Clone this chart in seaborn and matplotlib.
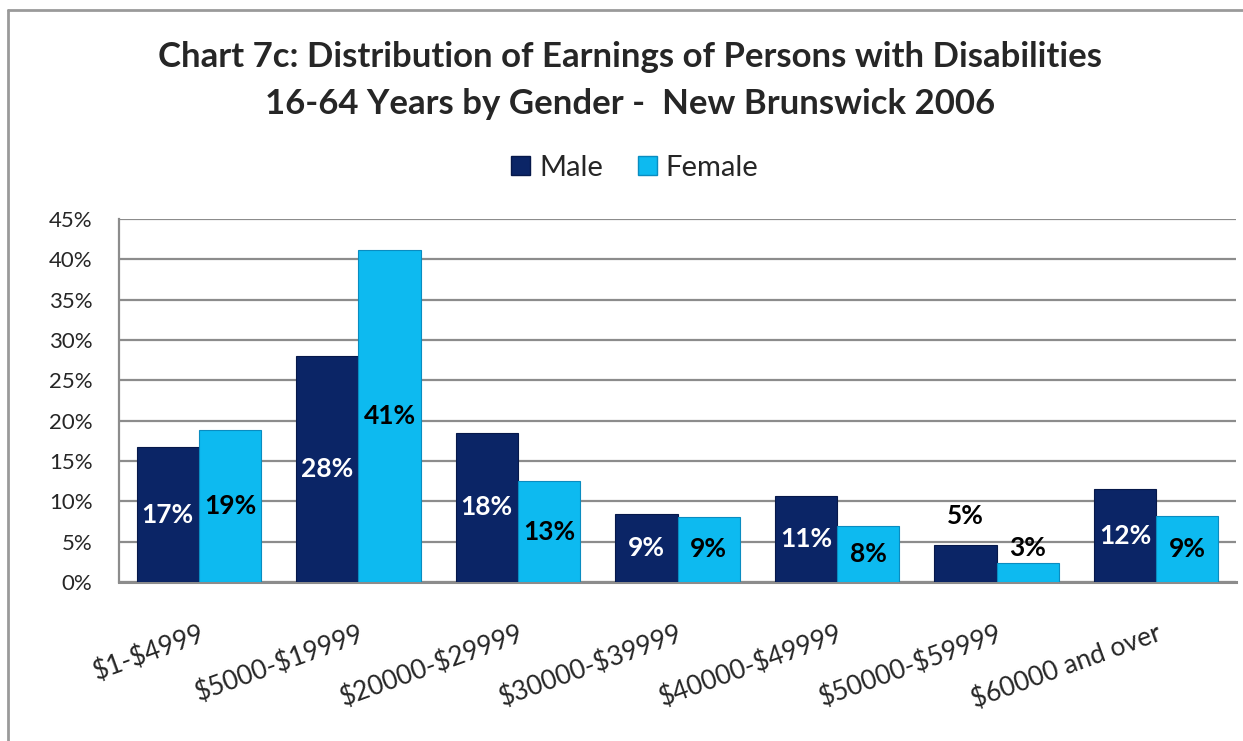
import numpy as np
import pandas as pd
import seaborn as sns
import matplotlib.pyplot as plt
from matplotlib.patches import Patch
from matplotlib.lines import Line2D

# values (bar heights, %), and the printed labels
categories = ["$1-$4999", "$5000-$19999", "$20000-$29999", "$30000-$39999",
              "$40000-$49999", "$50000-$59999", "$60000 and over"]
male_pct = [16.7, 28.0, 18.5, 8.4, 10.6, 4.6, 11.5]
female_pct = [18.9, 41.1, 12.5, 8.1, 7.0, 2.4, 8.2]
male_labels = ["17%", "28%", "18%", "9%", "11%", "5%", "12%"]
female_labels = ["19%", "41%", "13%", "9%", "8%", "3%", "9%"]
y_ticks = [0, 5, 10, 15, 20, 25, 30, 35, 40, 45]

MALE_C = "#0B2566"
FEMALE_C = "#0DBAF0"
GRID_C = "#8C8C8C"

df = pd.concat([
    pd.DataFrame({"range": categories, "pct": male_pct, "gender": "Male", "lab": male_labels}),
    pd.DataFrame({"range": categories, "pct": female_pct, "gender": "Female", "lab": female_labels}),
])

sns.set_style("white")
plt.rcParams["font.family"] = ["Lato", "DejaVu Sans"]

W, H = 1243, 741
fig = plt.figure(figsize=(W / 100, H / 100), dpi=100)
ax = fig.add_axes([119 / W, 1 - 582 / H, (1236 - 119) / W, (582 - 219) / H])

sns.barplot(data=df, x="range", y="pct", hue="gender", order=categories,
            hue_order=["Male", "Female"], palette=[MALE_C, FEMALE_C],
            width=0.78, saturation=1, ax=ax, legend=False, zorder=3)

for cont, gender in zip(ax.containers, ["Male", "Female"]):
    sub = df[df.gender == gender]
    for bar, lab, v in zip(cont, sub["lab"], sub["pct"]):
        edge = "#06184A" if gender == "Male" else "#0A8CC0"
        bar.set_edgecolor(edge)
        bar.set_linewidth(0.8)
        xc = bar.get_x() + bar.get_width() / 2
        if v < 6:
            off = 12 if gender == "Male" else 2
            ax.annotate(lab, (xc, v), xytext=(0, off), textcoords="offset points",
                        ha="center", va="bottom", fontsize=19, fontweight="bold",
                        color="black", zorder=5)
        else:
            ax.text(xc, v / 2, lab, ha="center", va="center", fontsize=19,
                    fontweight="bold", color="white" if gender == "Male" else "black",
                    zorder=5)

ax.set_ylim(0, 45)
ax.set_xlim(-0.5, len(categories) - 0.5)
ax.set_yticks(y_ticks)
ax.set_yticklabels([f"{t}%" for t in y_ticks])
ax.set_xticks(range(len(categories)))
ax.set_xticklabels([c.replace("$", r"\$") for c in categories])
ax.yaxis.grid(True, color=GRID_C, linewidth=1.6, zorder=0)
ax.set_axisbelow(True)
ax.set_xlabel("")
ax.set_ylabel("")
ax.tick_params(axis="y", length=0, pad=19, labelsize=16)
ax.tick_params(axis="x", length=0, pad=28, labelsize=19)
plt.setp(ax.get_xticklabels(), rotation=20, ha="right", rotation_mode="anchor", va="top")
for s in ["top", "right"]:
    ax.spines[s].set_visible(False)
ax.spines["left"].set_color(GRID_C)
ax.spines["left"].set_linewidth(1.6)
ax.spines["bottom"].set_color(GRID_C)
ax.spines["bottom"].set_linewidth(2.2)

fig.text(630 / W, 1 - 57 / H, "Chart 7c: Distribution of Earnings of Persons with Disabilities",
         ha="center", va="center", fontsize=25, fontweight="bold")
fig.text(630 / W, 1 - 104 / H, "16-64 Years by Gender -  New Brunswick 2006",
         ha="center", va="center", fontsize=25, fontweight="bold")

handles = [Patch(facecolor=MALE_C, edgecolor="#06184A"), Patch(facecolor=FEMALE_C, edgecolor="#0A8CC0")]
fig.legend(handles, ["Male", "Female"], loc="center", bbox_to_anchor=(635 / W, 1 - 168 / H),
           ncol=2, frameon=False, fontsize=21, handlelength=0.65, handleheight=0.65,
           handletextpad=0.3, columnspacing=1.2)

# outer chart border
fig.add_artist(Line2D([8 / W, 8 / W], [0, 1 - 10 / H], color="#9A9A9A", lw=2, transform=fig.transFigure))
fig.add_artist(Line2D([8 / W, 1], [1 - 10 / H, 1 - 10 / H], color="#9A9A9A", lw=2, transform=fig.transFigure))

fig.savefig("out.png", dpi=100)
